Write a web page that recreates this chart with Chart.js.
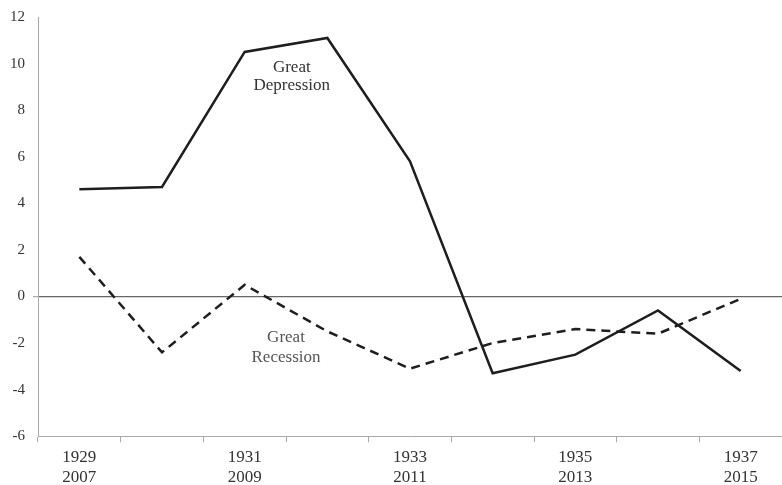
<!DOCTYPE html>
<html>
<head>
<meta charset="utf-8">
<script src="https://cdn.jsdelivr.net/npm/chart.js@4.4.1/dist/chart.umd.min.js"></script>
<style>
  html, body { margin: 0; padding: 0; background: #fff; }
  #wrap { width: 782px; height: 485px; }
</style>
</head>
<body>
<div id="wrap"><canvas id="grafico"></canvas></div>
<script>
// anos das duas crises
const anosDepressao = ['1929', '1930', '1931', '1932', '1933', '1934', '1935', '1936', '1937'];
const anosRecessao = ['2007', '2008', '2009', '2010', '2011', '2012', '2013', '2014', '2015'];
// so mostra rotulo a cada dois anos
const mostrarRotulo = [true, false, true, false, true, false, true, false, true];

const greatDepression = [4.6, 4.7, 10.5, 11.1, 5.8, -3.3, -2.5, -0.6, -3.2];
const greatRecession = [1.7, -2.4, 0.5, -1.5, -3.1, -2.0, -1.4, -1.6, -0.1];

const yTicks = [-6, -4, -2, 0, 2, 4, 6, 8, 10, 12];

const rotulos = anosDepressao.map((ano, i) => mostrarRotulo[i] ? [ano, anosRecessao[i]] : ['', '']);

const fonte = "'Liberation Serif', 'DejaVu Serif', serif";

// textos "Great Depression" / "Great Recession" dentro do grafico
const anotacoes = {
  id: 'anotacoes',
  afterDatasetsDraw(chart) {
    const ctx = chart.ctx;
    const x = chart.scales.x;
    const y = chart.scales.y;
    ctx.save();
    ctx.font = '17px ' + fonte;
    ctx.textAlign = 'center';
    ctx.textBaseline = 'alphabetic';
    ctx.fillStyle = '#333';
    ctx.fillText('Great', x.getPixelForValue(2.57), y.getPixelForValue(9.64));
    ctx.fillText('Depression', x.getPixelForValue(2.57), y.getPixelForValue(8.87));
    ctx.fillStyle = '#555';
    ctx.fillText('Great', x.getPixelForValue(2.5), y.getPixelForValue(-1.97));
    ctx.fillText('Recession', x.getPixelForValue(2.5), y.getPixelForValue(-2.83));
    ctx.restore();
  }
};

new Chart(document.getElementById('grafico'), {
  type: 'line',
  data: {
    labels: rotulos,
    datasets: [
      {
        label: 'Great Depression',
        data: greatDepression,
        borderColor: '#1e1e1e',
        borderWidth: 2.5,
        pointRadius: 0,
        tension: 0,
        fill: false
      },
      {
        label: 'Great Recession',
        data: greatRecession,
        borderColor: '#1e1e1e',
        borderWidth: 2.5,
        borderDash: [9, 6],
        pointRadius: 0,
        tension: 0,
        fill: false
      }
    ]
  },
  options: {
    responsive: true,
    maintainAspectRatio: false,
    animation: false,
    layout: { padding: { top: 4, right: 0, left: 2, bottom: -8 } },
    plugins: {
      legend: { display: false },
      tooltip: { enabled: false }
    },
    scales: {
      x: {
        offset: true,
        grid: {
          offset: true,
          drawOnChartArea: false,
          drawTicks: true,
          tickLength: 6,
          tickColor: '#aaa'
        },
        border: { color: '#aaa', width: 1 },
        ticks: {
          autoSkip: false,
          maxRotation: 0,
          color: '#333',
          font: { family: fonte, size: 17, lineHeight: 1.2 },
          padding: 5
        }
      },
      y: {
        min: -6,
        max: 12,
        afterBuildTicks: axis => { axis.ticks = yTicks.map(v => ({ value: v })); },
        grid: {
          drawOnChartArea: true,
          color: c => (c.tick && c.tick.value === 0) ? '#666' : 'rgba(0,0,0,0)',
          lineWidth: c => (c.tick && c.tick.value === 0) ? 1.2 : 0,
          drawTicks: true,
          tickLength: 5,
          tickColor: '#aaa'
        },
        border: { color: '#aaa', width: 1 },
        ticks: {
          color: '#333',
          font: { family: fonte, size: 15 },
          padding: 8
        }
      }
    }
  },
  plugins: [anotacoes]
});
</script>
</body>
</html>
